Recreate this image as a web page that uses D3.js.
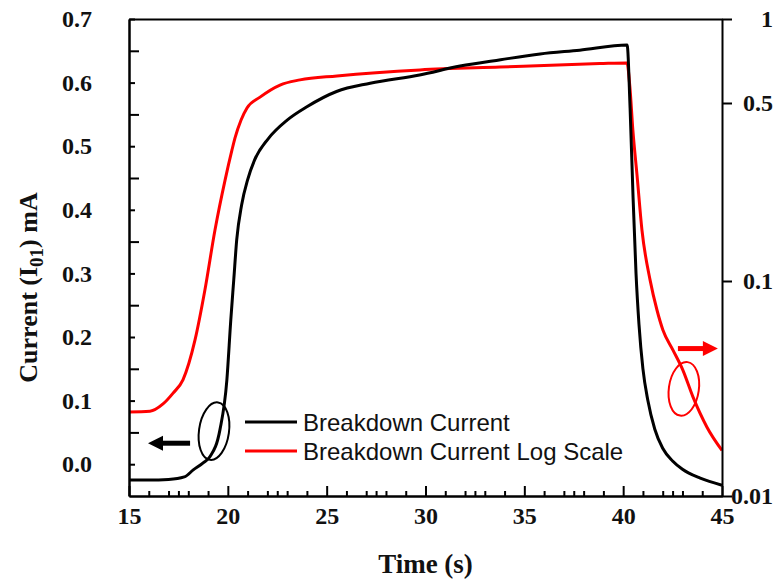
<!DOCTYPE html>
<html><head><meta charset="utf-8">
<script src="https://cdn.jsdelivr.net/npm/d3@7"></script>
<style>
html,body{margin:0;padding:0;background:#fff;}
svg{display:block;}
</style>
</head><body>
<svg id="chart" width="777" height="582"></svg>
<script>
// ---- data ----
const timeBlack = [15, 16, 17, 17.8, 18.25, 18.75, 19.1, 19.6, 19.95, 20.15, 20.3, 20.45, 20.7, 21.0, 21.35, 22.05, 23.0, 24.0, 25.5, 27.2, 29.7, 31.75, 33.8, 35.8, 37.8, 40.2, 40.35, 40.5, 40.65, 40.8, 41.0, 41.25, 41.6, 42.0, 42.5, 43.0, 43.9, 45];
const currentBlack = [-0.025, -0.025, -0.024, -0.020, -0.009, 0.002, 0.012, 0.054, 0.132, 0.227, 0.29, 0.353, 0.408, 0.447, 0.478, 0.512, 0.541, 0.562, 0.586, 0.599, 0.612, 0.626, 0.636, 0.645, 0.651, 0.659, 0.56, 0.42, 0.30, 0.22, 0.15, 0.10, 0.055, 0.025, 0.005, -0.008, -0.022, -0.033];
const timeRed = [15, 16.06, 16.72, 17.23, 17.73, 18.34, 18.84, 19.35, 19.86, 20.21, 20.36, 20.67, 20.97, 21.63, 22.64, 23.65, 25.52, 29.72, 33.77, 38.82, 40.19, 40.34, 40.49, 40.70, 40.95, 41.36, 41.71, 42.01, 42.52, 43.02, 43.53, 44.24, 45];
const currentRedLog = [0.0246, 0.0248, 0.0268, 0.0301, 0.0347, 0.0532, 0.0908, 0.1586, 0.249, 0.327, 0.364, 0.429, 0.478, 0.525, 0.580, 0.605, 0.625, 0.657, 0.673, 0.692, 0.696, 0.571, 0.392, 0.261, 0.1586, 0.101, 0.0733, 0.0592, 0.0477, 0.0385, 0.0289, 0.0209, 0.0163];

const xMajorTicks = [15, 20, 25, 30, 35, 40, 45];
const xMinorTicks = [16, 17, 17.5, 18, 19, 21, 22, 22.5, 23, 24, 26, 27, 27.5, 28, 29, 31, 32, 32.5, 33, 34, 36, 37, 37.5, 38, 39, 41, 42, 42.5, 43, 44];
const yLeftLabeled = [0.0, 0.1, 0.2, 0.3, 0.4, 0.5, 0.6, 0.7];
const yLeftMinor = [0.05, 0.15, 0.25, 0.35, 0.45, 0.55, 0.65];
const yRightTicks = [0.01, 0.1, 0.5, 1];
const yRightLabels = ["0.01", "0.1", "0.5", "1"];
const seriesNames = ["Breakdown Current", "Breakdown Current Log Scale"];
const seriesColors = ["#000000", "#ff0000"];

// ---- layout ----
const L = 129, R = 722, T = 19, B = 496;
const svg = d3.select("#chart");

const x = d3.scaleLinear().domain([15, 45]).range([L, R]);
const yL = d3.scaleLinear().domain([-0.05, 0.7]).range([B, T]);
// right axis: log-valued, piecewise-linear placement as drawn in the reference
const yRlin = d3.scaleLinear()
  .domain([Math.log10(0.01), Math.log10(0.1), Math.log10(0.5), 0])
  .range([B, 281, 103, T]);
const yR = v => yRlin(Math.log10(v));

const tickFont = "Liberation Serif, Times New Roman, serif";

// ---- curves ----
const blackData = timeBlack.map((t, i) => [t, currentBlack[i]]);
const redData = timeRed.map((t, i) => [t, currentRedLog[i]]);

svg.append("path").datum(redData)
  .attr("fill", "none").attr("stroke", seriesColors[1]).attr("stroke-width", 3)
  .attr("stroke-linejoin", "round")
  .attr("d", d3.line().x(d => x(d[0])).y(d => yR(d[1])).curve(d3.curveMonotoneX));

svg.append("path").datum(blackData)
  .attr("fill", "none").attr("stroke", seriesColors[0]).attr("stroke-width", 3)
  .attr("stroke-linejoin", "round")
  .attr("d", d3.line().x(d => x(d[0])).y(d => yL(d[1])).curve(d3.curveMonotoneX));

// ---- axes ----
function styleAxis(g) {
  g.selectAll(".domain").attr("stroke", "#000").attr("stroke-width", 2);
  g.selectAll(".tick line").attr("stroke", "#000").attr("stroke-width", 2);
  g.selectAll("text").attr("font-family", tickFont).attr("font-weight", "bold")
    .attr("font-size", 24).attr("fill", "#111");
}

// bottom
svg.append("g").attr("transform", `translate(0,${B})`)
  .call(d3.axisBottom(x).tickValues(xMinorTicks).tickSizeInner(-5).tickSizeOuter(0).tickFormat(""))
  .call(styleAxis);
svg.append("g").attr("transform", `translate(0,${B})`)
  .call(d3.axisBottom(x).tickValues(xMajorTicks).tickSizeInner(-10).tickSizeOuter(0).tickPadding(11).tickFormat(d3.format("d")))
  .call(styleAxis);

// top frame
svg.append("g").attr("transform", `translate(0,${T})`)
  .call(d3.axisTop(x).tickValues([]).tickSizeOuter(0))
  .call(styleAxis);

// left
svg.append("g").attr("transform", `translate(${L},0)`)
  .call(d3.axisLeft(yL).tickValues(yLeftMinor).tickSizeInner(-10).tickSizeOuter(0).tickFormat(""))
  .call(styleAxis);
svg.append("g").attr("transform", `translate(${L},0)`)
  .call(d3.axisLeft(yL).tickValues(yLeftLabeled).tickSizeInner(-6).tickSizeOuter(0).tickPadding(37).tickFormat(d3.format(".1f")))
  .call(styleAxis);

// right
const gR = svg.append("g").attr("transform", `translate(${R},0)`)
  .call(d3.axisRight(yRlin).tickValues(yRightTicks.map(v => Math.log10(v))).tickSizeInner(10).tickSizeOuter(0)
    .tickFormat((d, i) => yRightLabels[i]))
  .call(styleAxis);
gR.selectAll(".tick text").attr("text-anchor", "end").attr("x", 51);

// ---- axis titles ----
svg.append("text")
  .attr("x", x(30)).attr("y", 573)
  .attr("text-anchor", "middle")
  .attr("font-family", tickFont).attr("font-weight", "bold").attr("font-size", 27).attr("fill", "#111")
  .text("Time (s)");

const yt = svg.append("text")
  .attr("transform", `translate(37,${(T + B) / 2 + 30}) rotate(-90)`)
  .attr("text-anchor", "middle")
  .attr("font-family", tickFont).attr("font-weight", "bold").attr("font-size", 26).attr("fill", "#111");
yt.append("tspan").text("Current (I");
yt.append("tspan").attr("font-size", 19).attr("dy", 6).text("01");
yt.append("tspan").attr("dy", -6).text(") mA");

// ---- annotations (ellipses + arrows) ----
function ellipseAt(cx, cy, rx, ry, rot, color) {
  svg.append("ellipse")
    .attr("cx", 0).attr("cy", 0).attr("rx", rx).attr("ry", ry)
    .attr("transform", `translate(${cx},${cy}) rotate(${rot})`)
    .attr("fill", "none").attr("stroke", color).attr("stroke-width", 2);
}
ellipseAt(x(19.3), yL(0.052), 15, 29, 8, "#000");
ellipseAt(x(43.07), yR(0.0315), 15, 27, 8, "#ff0000");

function arrow(x1, x2, yy, color) {
  // shaft from x1 to head base, head tip at x2
  const dir = Math.sign(x2 - x1);
  const headLen = 15, half = 7.5;
  svg.append("line").attr("x1", x1).attr("x2", x2 - dir * headLen + dir * 1)
    .attr("y1", yy).attr("y2", yy).attr("stroke", color).attr("stroke-width", 5);
  svg.append("path")
    .attr("d", `M${x2},${yy} L${x2 - dir * headLen},${yy - half} L${x2 - dir * headLen},${yy + half} Z`)
    .attr("fill", color);
}
arrow(x(18.09), x(15.96), yL(0.033), "#000");
arrow(x(42.77), x(44.79), yR(0.0485), "#ff0000");

// ---- legend ----
const leg = svg.append("g");
seriesNames.forEach((name, i) => {
  const yy = 422 + i * 29;
  leg.append("line").attr("x1", 245).attr("x2", 297).attr("y1", yy).attr("y2", yy)
    .attr("stroke", seriesColors[i]).attr("stroke-width", 3);
  leg.append("text").attr("x", 303).attr("y", yy + 8.5)
    .attr("font-family", "Liberation Sans, Arial, sans-serif").attr("font-size", 24).attr("fill", "#111")
    .text(name);
});
</script>
</body></html>
